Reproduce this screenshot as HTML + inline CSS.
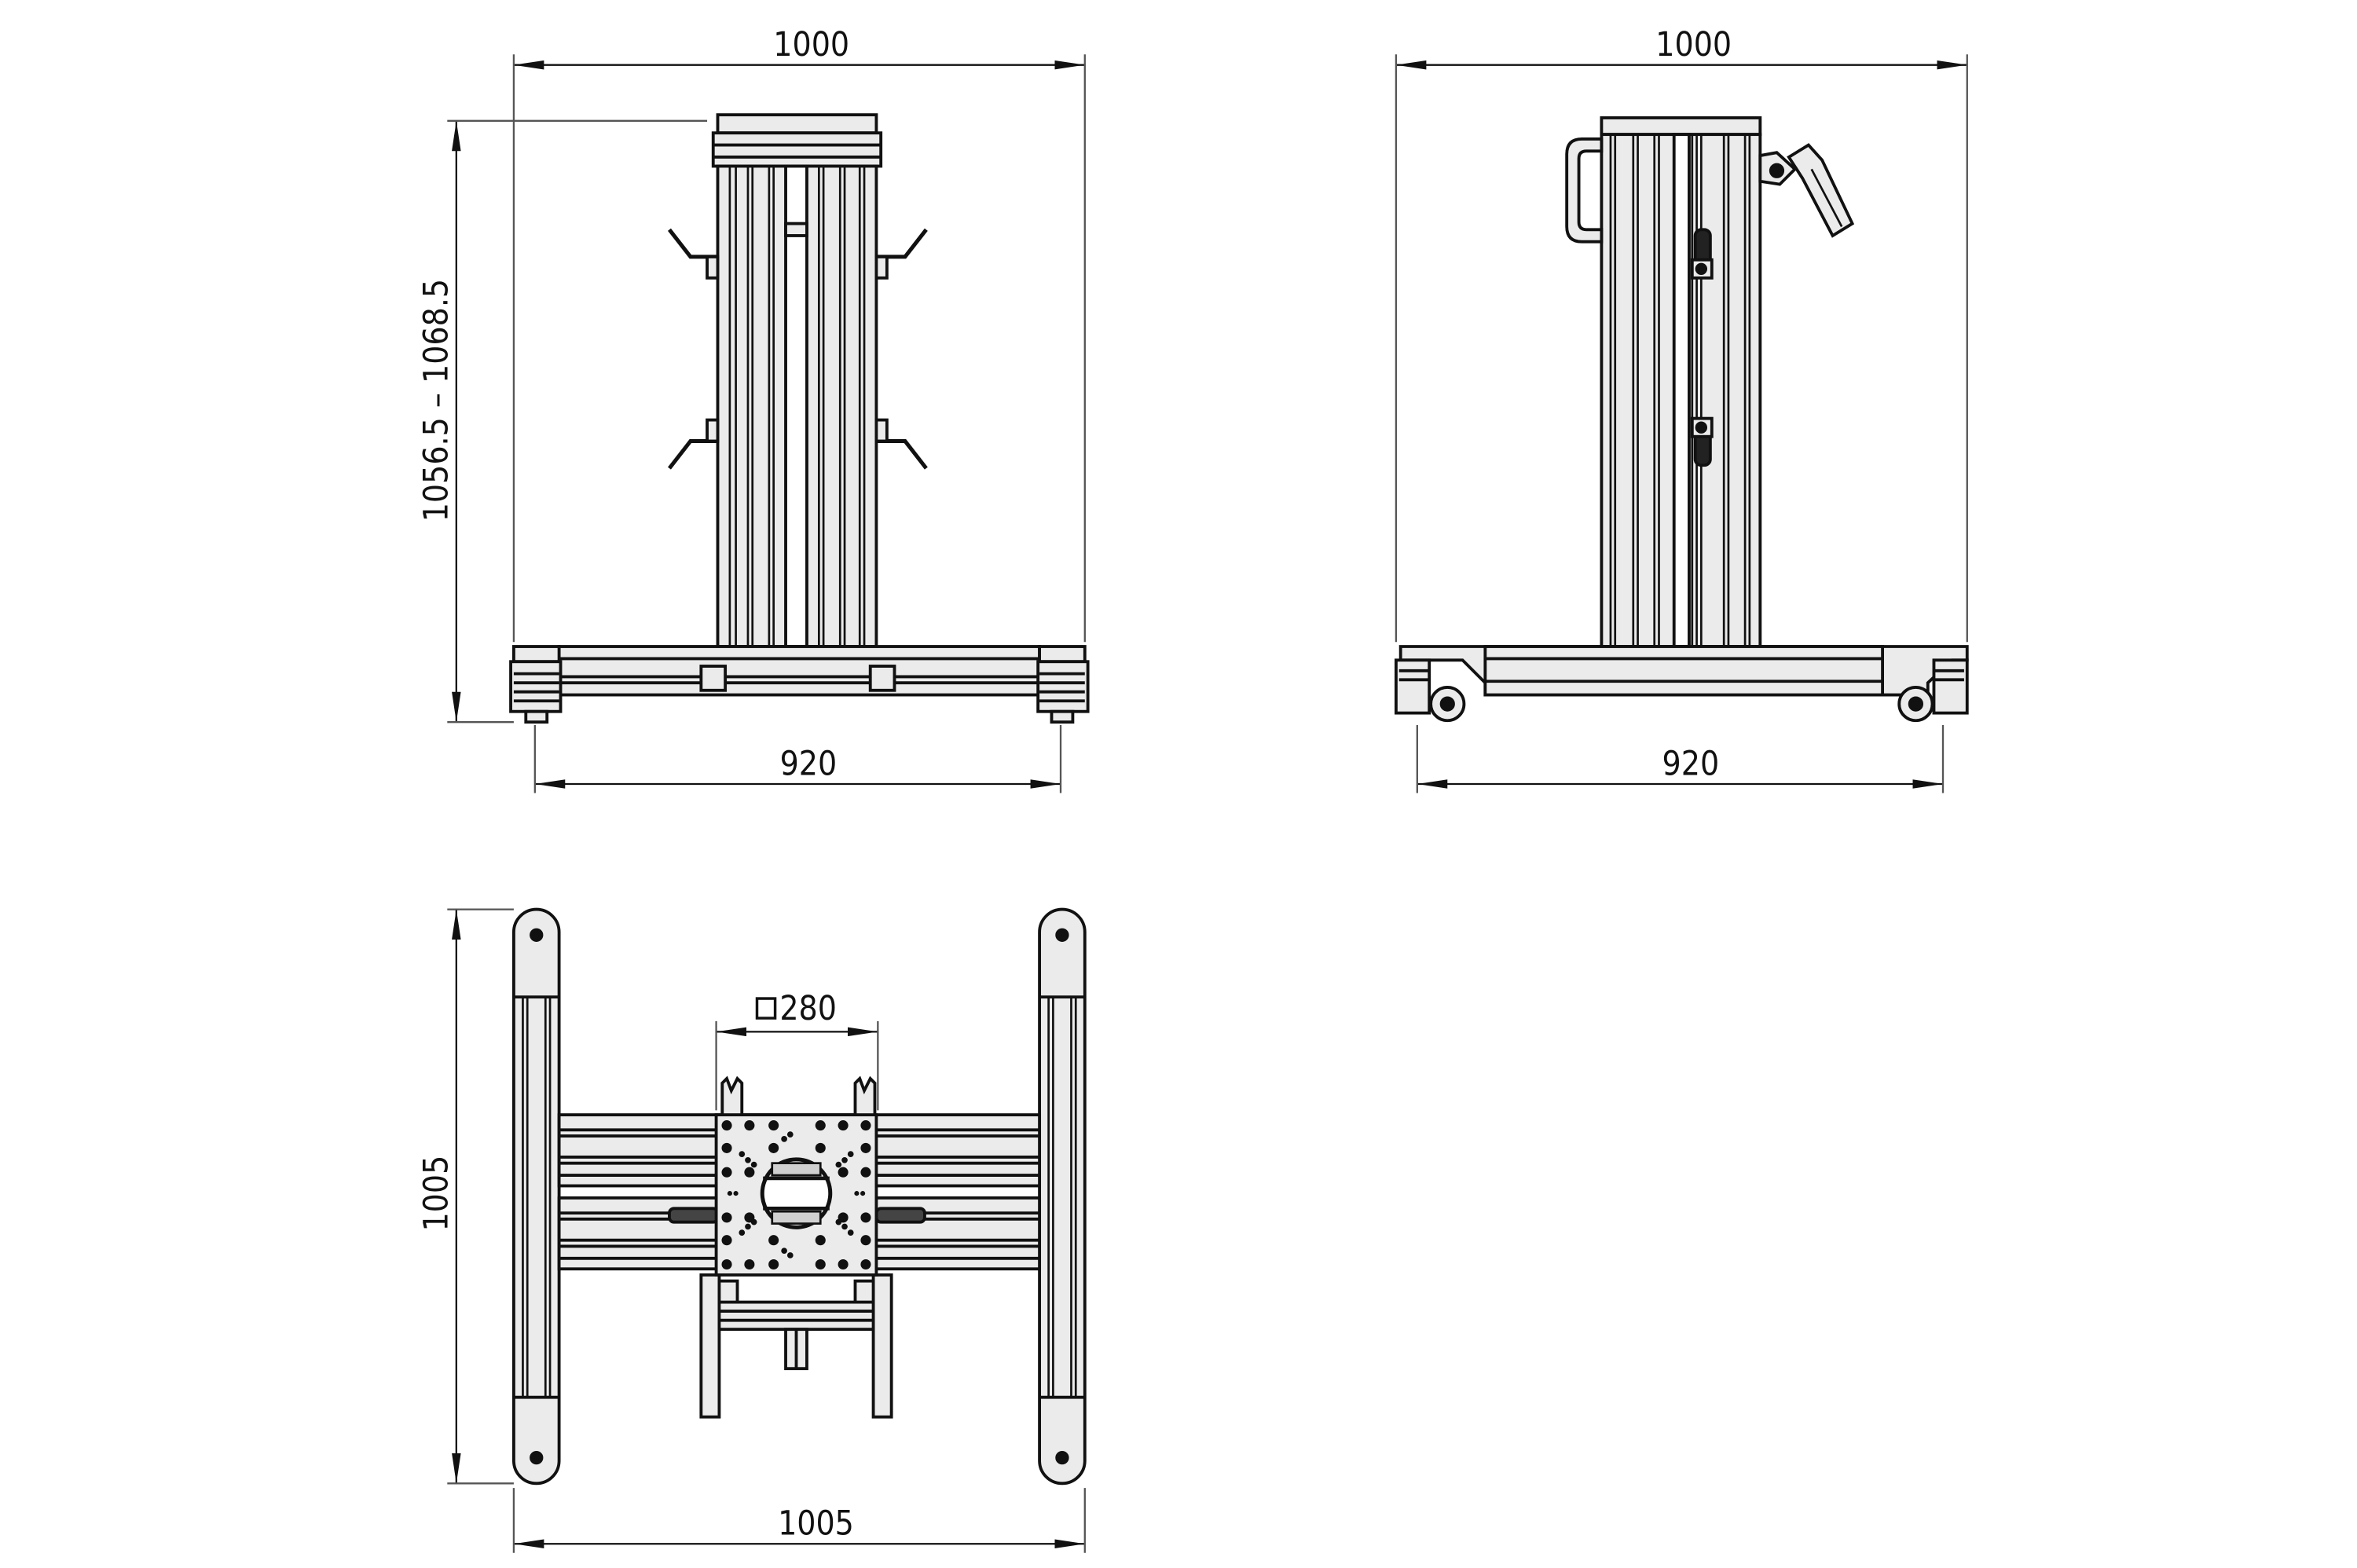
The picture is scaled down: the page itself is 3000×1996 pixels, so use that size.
<!DOCTYPE html>
<html><head><meta charset="utf-8"><style>
html,body{margin:0;padding:0;background:#fff}
svg{display:block}
text{font-family:"DejaVu Sans Condensed","Liberation Sans Narrow","Liberation Sans",sans-serif;font-size:22px;fill:#111}
</style></head><body>
<svg width="3000" height="1996" viewBox="0 0 1560 1038" xmlns="http://www.w3.org/2000/svg">
<defs>
<marker id="a" viewBox="0 0 20 6" refX="20" refY="3" markerWidth="20" markerHeight="6" markerUnits="userSpaceOnUse" orient="auto-start-reverse"><path d="M0,0 L20,3 L0,6 z" fill="#111"/></marker>
</defs>
<g stroke="#111" stroke-width="1.2" fill="none">
<!-- ========== FRONT VIEW ========== -->
<line x1="340" y1="43" x2="718" y2="43" marker-start="url(#a)" marker-end="url(#a)"/>
<line x1="340" y1="36" x2="340" y2="425" stroke="#555"/>
<line x1="718" y1="36" x2="718" y2="425" stroke="#555"/>
<line x1="302" y1="80" x2="302" y2="478" marker-start="url(#a)" marker-end="url(#a)"/>
<line x1="296" y1="80" x2="468" y2="80" stroke="#555"/>
<line x1="296" y1="478" x2="340" y2="478" stroke="#555"/>
<line x1="354" y1="519" x2="702" y2="519" marker-start="url(#a)" marker-end="url(#a)"/>
<line x1="354" y1="480" x2="354" y2="525" stroke="#555"/>
<line x1="702" y1="480" x2="702" y2="525" stroke="#555"/>
<g stroke-width="2">
<rect x="475" y="76" width="105" height="12" fill="#ebebeb"/>
<rect x="472" y="88" width="111" height="22" fill="#ebebeb"/>
<line x1="472" y1="96" x2="583" y2="96"/><line x1="472" y1="104" x2="583" y2="104"/>
<rect x="475" y="110" width="105" height="318" fill="#ebebeb"/>
<rect x="520" y="110" width="14" height="318" fill="#fff"/>
<rect x="520" y="148" width="14" height="8" fill="#ebebeb"/>
<path d="M483,110V428 M487,110V428 M495,110V428 M498,110V428 M509,110V428 M512,110V428 M542,110V428 M545,110V428 M556,110V428 M559,110V428 M569,110V428 M572,110V428" stroke-width="1.4"/>
<path d="M443,152 L457,170 L475,170" stroke-width="2.6"/><rect x="468" y="170" width="7" height="14" fill="#ebebeb"/>
<path d="M443,310 L457,292 L475,292" stroke-width="2.6"/><rect x="468" y="278" width="7" height="14" fill="#ebebeb"/>
<path d="M613,152 L599,170 L580,170" stroke-width="2.6"/><rect x="580" y="170" width="7" height="14" fill="#ebebeb"/>
<path d="M613,310 L599,292 L580,292" stroke-width="2.6"/><rect x="580" y="278" width="7" height="14" fill="#ebebeb"/>
<rect x="370" y="428" width="318" height="32" fill="#ebebeb"/>
<line x1="370" y1="436" x2="688" y2="436"/><line x1="370" y1="448" x2="688" y2="448"/><line x1="370" y1="452" x2="688" y2="452"/>
<rect x="464" y="441" width="16" height="16" fill="#ebebeb"/><rect x="576" y="441" width="16" height="16" fill="#ebebeb"/>
<rect x="340" y="428" width="30" height="10" fill="#ebebeb"/><rect x="338" y="438" width="33" height="33" fill="#ebebeb"/>
<path d="M340,446H370 M340,452H370 M340,458H370 M340,464H370"/><rect x="348" y="471" width="14" height="7" fill="#ebebeb"/>
<rect x="688" y="428" width="30" height="10" fill="#ebebeb"/><rect x="687" y="438" width="33" height="33" fill="#ebebeb"/>
<path d="M688,446H718 M688,452H718 M688,458H718 M688,464H718"/><rect x="696" y="471" width="14" height="7" fill="#ebebeb"/>
</g>
<!-- ========== SIDE VIEW ========== -->
<line x1="924" y1="43" x2="1302" y2="43" marker-start="url(#a)" marker-end="url(#a)"/>
<line x1="924" y1="36" x2="924" y2="425" stroke="#555"/>
<line x1="1302" y1="36" x2="1302" y2="425" stroke="#555"/>
<line x1="938" y1="519" x2="1286" y2="519" marker-start="url(#a)" marker-end="url(#a)"/>
<line x1="938" y1="480" x2="938" y2="525" stroke="#555"/>
<line x1="1286" y1="480" x2="1286" y2="525" stroke="#555"/>
<g stroke-width="2">
<rect x="1060" y="78" width="105" height="11" fill="#ebebeb"/>
<rect x="1060" y="89" width="105" height="339" fill="#ebebeb"/>
<rect x="1108" y="89" width="10" height="339" fill="#fff"/>
<path d="M1066,89V428 M1069,89V428 M1081,89V428 M1084,89V428 M1095,89V428 M1098,89V428 M1120,89V428 M1123,89V428 M1126,89V428 M1141,89V428 M1144,89V428 M1155,89V428 M1158,89V428" stroke-width="1.4"/>
<path d="M1060,92 H1047 Q1037,92 1037,102 V150 Q1037,160 1047,160 H1060 V152 H1050 Q1045,152 1045,147 V105 Q1045,100 1050,100 H1060 Z" fill="#ebebeb"/>
<rect x="1122" y="152" width="10" height="30" rx="4" fill="#222"/><rect x="1120" y="172" width="13" height="12" fill="#ebebeb"/><circle cx="1126" cy="178" r="3" fill="#111"/>
<rect x="1122" y="278" width="10" height="30" rx="4" fill="#222"/><rect x="1120" y="277" width="13" height="12" fill="#ebebeb"/><circle cx="1126" cy="283" r="3" fill="#111"/>
<path d="M1165,103 L1176,101 L1188,112 L1178,122 L1165,120 Z" fill="#ebebeb"/><circle cx="1176" cy="113" r="4" fill="#111"/>
<path d="M1184,104 L1197,96 L1206,106 L1226,148 L1213,156 L1193,118 Z" fill="#ebebeb"/>
<line x1="1199" y1="112" x2="1219" y2="150" stroke-width="1.4"/>
<path d="M927,428 H1302 V437 H1292 L1276,452 V460 H983 V452 L968,437 H927 Z" fill="#ebebeb"/>
<rect x="983" y="428" width="263" height="32" fill="#ebebeb"/>
<line x1="983" y1="436" x2="1246" y2="436"/><line x1="983" y1="451" x2="1246" y2="451"/>
<rect x="924" y="437" width="22" height="35" fill="#ebebeb"/><path d="M926,444H946 M926,450H946"/>
<circle cx="958" cy="466" r="11" fill="#ebebeb"/><circle cx="958" cy="466" r="4" fill="#111"/>
<rect x="1280" y="437" width="22" height="35" fill="#ebebeb"/><path d="M1280,444H1300 M1280,450H1300"/>
<circle cx="1268" cy="466" r="11" fill="#ebebeb"/><circle cx="1268" cy="466" r="4" fill="#111"/>
</g>
<!-- ========== TOP VIEW ========== -->
<line x1="302" y1="602" x2="302" y2="982" marker-start="url(#a)" marker-end="url(#a)"/>
<line x1="296" y1="602" x2="340" y2="602" stroke="#555"/>
<line x1="296" y1="982" x2="340" y2="982" stroke="#555"/>
<line x1="340" y1="1022" x2="718" y2="1022" marker-start="url(#a)" marker-end="url(#a)"/>
<line x1="340" y1="985" x2="340" y2="1028" stroke="#555"/>
<line x1="718" y1="985" x2="718" y2="1028" stroke="#555"/>
<line x1="474" y1="683" x2="581" y2="683" marker-start="url(#a)" marker-end="url(#a)"/>
<line x1="474" y1="676" x2="474" y2="735" stroke="#555"/>
<line x1="581" y1="676" x2="581" y2="735" stroke="#555"/>
<g stroke-width="2">
<path d="M340,617 A15,15 0 0 1 370,617 V967 A15,15 0 0 1 340,967 Z" fill="#ebebeb"/>
<path d="M340,660H370 M340,925H370"/>
<path d="M346,660V925 M349,660V925 M361,660V925 M364,660V925" stroke-width="1.4"/>
<circle cx="355" cy="619" r="3.5" fill="#111"/><circle cx="355" cy="965" r="3.5" fill="#111"/>
<path d="M688,617 A15,15 0 0 1 718,617 V967 A15,15 0 0 1 688,967 Z" fill="#ebebeb"/>
<path d="M688,660H718 M688,925H718"/>
<path d="M694,660V925 M697,660V925 M709,660V925 M712,660V925" stroke-width="1.4"/>
<circle cx="703" cy="619" r="3.5" fill="#111"/><circle cx="703" cy="965" r="3.5" fill="#111"/>
<rect x="370" y="738" width="318" height="47" fill="#ebebeb"/>
<rect x="370" y="793" width="318" height="47" fill="#ebebeb"/>
<path d="M370,748H688 M370,752H688 M370,766H688 M370,770H688 M370,778H688 M370,803H688 M370,807H688 M370,821H688 M370,825H688 M370,833H688"/>
<rect x="443" y="800" width="32" height="9" rx="3" fill="#444"/><rect x="580" y="800" width="32" height="9" rx="3" fill="#444"/>
<rect x="464" y="844" width="12" height="94" fill="#ebebeb"/><rect x="578" y="844" width="12" height="94" fill="#ebebeb"/>
<rect x="476" y="862" width="102" height="18" fill="#ebebeb"/>
<path d="M476,868H578 M476,874H578"/>
<rect x="476" y="848" width="12" height="14" fill="#ebebeb"/><rect x="566" y="848" width="12" height="14" fill="#ebebeb"/>
<rect x="520" y="880" width="14" height="26" fill="#ebebeb"/><line x1="527" y1="880" x2="527" y2="906"/>
<path d="M478,738 V717 L481,714 L484,722 L488,714 L491,717 V738" fill="#ebebeb"/>
<path d="M566,738 V717 L569,714 L572,722 L576,714 L579,717 V738" fill="#ebebeb"/>
<rect x="474" y="738" width="106" height="106" fill="#ebebeb"/>
<circle cx="527" cy="790" r="22.5" fill="#fff" stroke-width="2.6"/>
<path d="M505,780H549 M505,800H549" stroke-width="2.4"/>
<rect x="511" y="770" width="32" height="8" fill="#d0d0d0" stroke-width="1.4"/>
<rect x="511" y="802" width="32" height="8" fill="#d0d0d0" stroke-width="1.4"/>
</g>
<g fill="#111" stroke="none">
<circle cx="481" cy="745" r="3.4"/><circle cx="496" cy="745" r="3.4"/><circle cx="512" cy="745" r="3.4"/><circle cx="543" cy="745" r="3.4"/><circle cx="558" cy="745" r="3.4"/><circle cx="573" cy="745" r="3.4"/>
<circle cx="481" cy="760" r="3.4"/><circle cx="512" cy="760" r="3.4"/><circle cx="543" cy="760" r="3.4"/><circle cx="573" cy="760" r="3.4"/>
<circle cx="481" cy="776" r="3.4"/><circle cx="496" cy="776" r="3.4"/><circle cx="558" cy="776" r="3.4"/><circle cx="573" cy="776" r="3.4"/>
<circle cx="481" cy="806" r="3.4"/><circle cx="496" cy="806" r="3.4"/><circle cx="558" cy="806" r="3.4"/><circle cx="573" cy="806" r="3.4"/>
<circle cx="481" cy="821" r="3.4"/><circle cx="512" cy="821" r="3.4"/><circle cx="543" cy="821" r="3.4"/><circle cx="573" cy="821" r="3.4"/>
<circle cx="481" cy="837" r="3.4"/><circle cx="496" cy="837" r="3.4"/><circle cx="512" cy="837" r="3.4"/><circle cx="543" cy="837" r="3.4"/><circle cx="558" cy="837" r="3.4"/><circle cx="573" cy="837" r="3.4"/>
<circle cx="491" cy="764" r="2"/><circle cx="495" cy="768" r="2"/><circle cx="499" cy="771" r="2"/>
<circle cx="563" cy="764" r="2"/><circle cx="559" cy="768" r="2"/><circle cx="555" cy="771" r="2"/>
<circle cx="491" cy="816" r="2"/><circle cx="495" cy="812" r="2"/><circle cx="499" cy="809" r="2"/>
<circle cx="563" cy="816" r="2"/><circle cx="559" cy="812" r="2"/><circle cx="555" cy="809" r="2"/>
<circle cx="519" cy="754" r="2"/><circle cx="523" cy="751" r="2"/><circle cx="519" cy="828" r="2"/><circle cx="523" cy="831" r="2"/>
<circle cx="483" cy="790" r="1.6"/><circle cx="487" cy="790" r="1.6"/><circle cx="567" cy="790" r="1.6"/><circle cx="571" cy="790" r="1.6"/>
</g>
</g>
<text x="537" y="37" text-anchor="middle">1000</text>
<text x="1121" y="37" text-anchor="middle">1000</text>
<text x="535" y="513" text-anchor="middle">920</text>
<text x="1119" y="513" text-anchor="middle">920</text>
<text x="540" y="1016" text-anchor="middle">1005</text>
<text transform="translate(296,265) rotate(-90)" text-anchor="middle">1056.5 – 1068.5</text>
<text transform="translate(296,790) rotate(-90)" text-anchor="middle">1005</text>
<rect x="501" y="661" width="12" height="13" fill="none" stroke="#111" stroke-width="1.8"/>
<text x="516" y="675">280</text>
</svg>
</body></html>
